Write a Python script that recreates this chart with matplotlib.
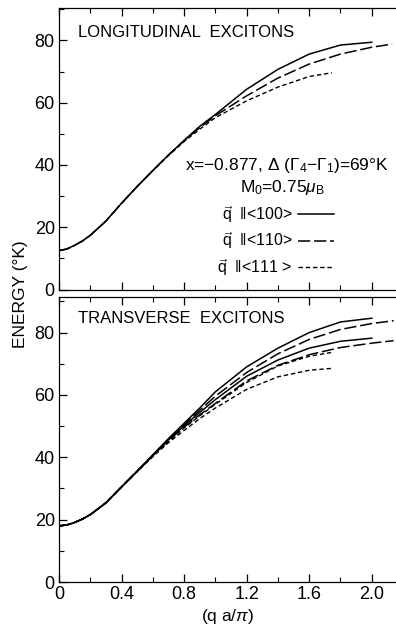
import matplotlib
matplotlib.use("Agg")
import matplotlib.pyplot as plt
from matplotlib.ticker import MultipleLocator

plt.rcParams['font.family'] = ['Liberation Sans', 'DejaVu Sans']
plt.rcParams['mathtext.fontset'] = 'custom'
plt.rcParams['mathtext.rm'] = 'Liberation Sans'
plt.rcParams['mathtext.it'] = 'Liberation Sans:italic'
plt.rcParams['mathtext.bf'] = 'Liberation Sans:bold'

# ---- Longitudinal excitons (top panel) ----
q_L100 = [0, 0.05, 0.1, 0.15, 0.2, 0.3, 0.4, 0.5, 0.6, 0.7, 0.8, 0.9, 1.0, 1.2, 1.4, 1.6, 1.8, 2.0]
E_L100 = [12.5, 13.0, 14.2, 15.6, 17.4, 22.0, 27.7, 33.1, 38.2, 43.2, 47.9, 52.4, 56.2, 64.3, 70.7, 75.6, 78.5, 79.4]
q_L110 = [0, 0.05, 0.1, 0.15, 0.2, 0.3, 0.4, 0.5, 0.6, 0.7, 0.8, 0.9, 1.0, 1.2, 1.4, 1.6, 1.8, 2.0, 2.13]
E_L110 = [12.5, 13.0, 14.2, 15.6, 17.4, 22.0, 27.7, 33.1, 38.2, 43.2, 47.8, 52.0, 55.8, 62.2, 67.9, 72.4, 75.6, 77.8, 78.8]
q_L111 = [0, 0.05, 0.1, 0.15, 0.2, 0.3, 0.4, 0.5, 0.6, 0.7, 0.8, 0.9, 1.0, 1.2, 1.4, 1.6, 1.745]
E_L111 = [12.5, 13.0, 14.2, 15.6, 17.4, 22.0, 27.7, 33.1, 38.2, 43.0, 47.5, 51.5, 55.2, 60.6, 65.0, 68.4, 69.6]

# ---- Transverse excitons (bottom panel), two branches per direction ----
q_T100 = [0, 0.05, 0.1, 0.15, 0.2, 0.3, 0.4, 0.5, 0.6, 0.7, 0.8, 0.9, 1.0, 1.2, 1.4, 1.6, 1.8, 2.0]
E_T100a = [18.0, 18.3, 19.1, 20.2, 21.6, 25.4, 30.5, 35.6, 40.8, 46.0, 50.9, 55.8, 61.0, 69.0, 75.0, 80.0, 83.4, 84.6]
E_T100b = [18.0, 18.3, 19.1, 20.2, 21.6, 25.4, 30.5, 35.5, 40.6, 45.6, 50.1, 54.4, 58.5, 66.0, 71.2, 75.0, 77.2, 78.2]
q_T110 = [0, 0.05, 0.1, 0.15, 0.2, 0.3, 0.4, 0.5, 0.6, 0.7, 0.8, 0.9, 1.0, 1.2, 1.4, 1.6, 1.8, 2.0, 2.14]
E_T110a = [18.0, 18.3, 19.1, 20.2, 21.6, 25.4, 30.5, 35.6, 40.7, 45.8, 50.5, 55.1, 59.6, 67.2, 73.2, 77.8, 81.0, 82.9, 83.8]
E_T110b = [18.0, 18.3, 19.1, 20.2, 21.6, 25.4, 30.5, 35.5, 40.5, 45.3, 49.7, 53.6, 57.3, 64.5, 69.5, 72.9, 75.2, 76.6, 77.4]
q_T111 = [0, 0.05, 0.1, 0.15, 0.2, 0.3, 0.4, 0.5, 0.6, 0.7, 0.8, 0.9, 1.0, 1.2, 1.4, 1.6, 1.74]
E_T111a = [18.0, 18.3, 19.1, 20.2, 21.6, 25.4, 30.5, 35.5, 40.4, 45.1, 49.4, 53.3, 57.0, 64.0, 69.3, 72.4, 73.6]
E_T111b = [18.0, 18.3, 19.1, 20.2, 21.6, 25.4, 30.5, 35.4, 40.2, 44.7, 48.6, 52.4, 55.8, 61.8, 65.8, 67.9, 68.5]

x_ticks = [0, 0.4, 0.8, 1.2, 1.6, 2.0]
x_ticklabels = ['0', '0.4', '0.8', '1.2', '1.6', '2.0']
y_ticks = [0, 20, 40, 60, 80]
legend_labels = [r'$\vec{\mathrm{q}}$  $\Vert$<100>', r'$\vec{\mathrm{q}}$  $\Vert$<110>', r'$\vec{\mathrm{q}}$  $\Vert$<111 >']

solid = dict(color='black', lw=1.1, linestyle='-')
ldash = dict(color='black', lw=1.1, linestyle=(0, (8, 2.5)))
sdash = dict(color='black', lw=1.0, linestyle=(0, (3.2, 2.0)))

fig = plt.figure(figsize=(3.96, 6.29), dpi=100)
ax1 = fig.add_axes([0.149, 0.5397, 0.851, 0.4476])
ax2 = fig.add_axes([0.149, 0.0747, 0.851, 0.4536])

for ax in (ax1, ax2):
    ax.set_xlim(0, 2.155)
    ax.set_xticks(x_ticks)
    ax.xaxis.set_minor_locator(MultipleLocator(0.2))
    ax.set_yticks(y_ticks)
    ax.yaxis.set_minor_locator(MultipleLocator(10))
    ax.tick_params(which='both', direction='in', top=True, right=False, labelsize=13, pad=3)
    ax.tick_params(which='major', length=6, width=0.9)
    ax.tick_params(which='minor', length=3.5, width=0.8)
    ax.spines['right'].set_visible(False)
    for s in ('left', 'top', 'bottom'):
        ax.spines[s].set_linewidth(0.9)

ax1.set_ylim(0, 90.4)
ax2.set_ylim(0, 91.5)

l1, = ax1.plot(q_L100, E_L100, **solid)
l2, = ax1.plot(q_L110, E_L110, **ldash)
l3, = ax1.plot(q_L111, E_L111, **sdash)
ax1.set_xticklabels([])

ax2.plot(q_T100, E_T100a, **solid)
ax2.plot(q_T100, E_T100b, **solid)
ax2.plot(q_T110, E_T110a, **ldash)
ax2.plot(q_T110, E_T110b, **ldash)
ax2.plot(q_T111, E_T111a, **sdash)
ax2.plot(q_T111, E_T111b, **sdash)
ax2.set_xticklabels(x_ticklabels)
ax2.set_xlabel(r'(q a/$\pi$)', fontsize=12.5, labelpad=3)

ax1.text(0.056, 0.913, 'LONGITUDINAL  EXCITONS', transform=ax1.transAxes, fontsize=12, va='center', ha='left')
ax2.text(0.056, 0.925, 'TRANSVERSE  EXCITONS', transform=ax2.transAxes, fontsize=12, va='center', ha='left')
ax1.text(0.677, 0.439, r'x=$-$0.877, $\Delta$ ($\Gamma_{4}$$-$$\Gamma_{1}$)=69°K', transform=ax1.transAxes,
         fontsize=12.5, va='center', ha='center')
ax1.text(0.662, 0.364, r'M$_0$=0.75$\mu_{\mathrm{B}}$', transform=ax1.transAxes, fontsize=12.5, va='center', ha='center')

leg = ax1.legend([l1, l2, l3], legend_labels, loc='upper left', bbox_to_anchor=(0.47, 0.305),
                 frameon=False, markerfirst=False, handlelength=2.3, handletextpad=0.3,
                 labelspacing=0.35, fontsize=11.5, borderpad=0, borderaxespad=0)

fig.text(0.053, 0.533, 'ENERGY (°K)', rotation=90, fontsize=12.5, va='center', ha='center')

fig.savefig('out.png', dpi=100)
